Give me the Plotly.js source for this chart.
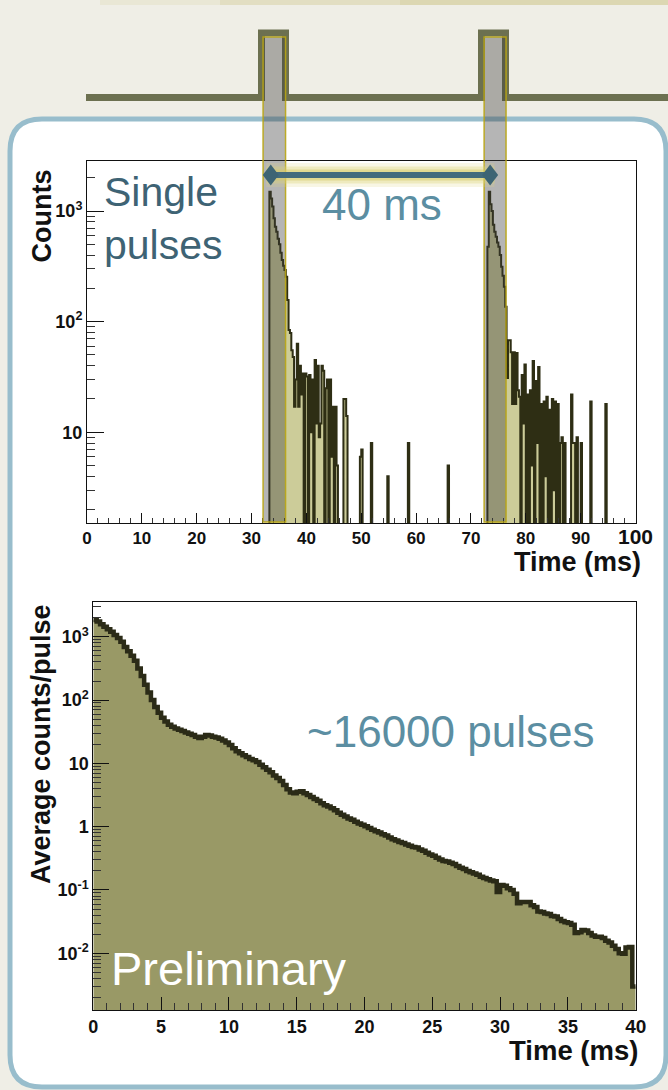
<!DOCTYPE html>
<html><head><meta charset="utf-8">
<script src="https://cdn.plot.ly/plotly-3.0.1.min.js"></script>
<style>html,body{margin:0;padding:0;background:#efeee6;overflow:hidden}#chart{width:668px;height:1090px}</style>
</head><body><div id="chart"></div>
<script>
// ---------------- data ----------------
// Top panel: single pulses, counts per 0.25 ms bin (bins not listed are empty)
const topBinWidth = 0.25;
const topBinStart = [33.25,33.5,33.75,34,34.25,34.5,34.75,35,35.25,35.5,35.75,36,36.25,36.5,36.75,
  37,37.25,37.5,37.75,38,38.25,38.5,38.75,39,39.25,
  39.75,40,40.5,40.75,41,41.5,41.75,42,42.25,42.5,42.75,43,43.5,43.75,
  44.25,44.5,44.75,45.25,45.5,46.75,47,47.25,
  49.75,50,51.75,54.75,58.5,65.75,
  73,73.25,73.5,73.75,74,74.25,74.5,74.75,75,75.25,75.5,75.75,76,76.25,
  76.5,76.75,77,77.25,77.5,77.75,78,78.25,78.5,78.75,
  79.25,79.5,79.75,80.25,80.75,81,81.25,81.75,82,82.25,82.75,
  83.25,83.5,83.75,84.25,84.75,85,85.25,85.75,86.25,86.5,87,
  88.25,88.5,88.75,89.25,90,91.75,94.5];
const topCounts = [1490,1300,1100,860,720,650,560,500,420,360,320,293,255,157,84,
  79,55,48,17,30,63,17,40,22,34,
  34,32,33,10,30,45,12,40,9,12,40,36,25,30,
  30,6,17,17,5,20,20,14,
  6,7,8,4,8,5,
  475,1490,1150,1000,750,650,585,520,475,400,313,260,207,136,
  31,68,68,53,18,53,18,52,24,21,
  33,12,41,22,24,5,44,29,8,39,18,
  19,4,21,16,20,3,19,18,8,9,8,
  22,8,8,9,8,19,18];
const topTimeMax = 100;

// Bottom panel: average counts per pulse, 0.25 ms bins from 0 to 40 ms
const avgBinWidth = 0.25;
const avgCounts = [
  1840,1740,1585,1445, 1318,1202,1072,955, 832,692,589,501, 417,316,240,174,
  132,100,77.6,63.1, 52.5,45.7,40.7,38.0, 35.5,33.9,32.4,30.9, 29.5,28.2,26.3,25.1,
  26.3,28.2,27.5,26.3, 25.7,24.5,22.9,21.4, 19.5,17.4,15.5,14.5, 13.5,12.6,11.7,11.2,
  10.5,9.55,8.71,7.94, 7.24,6.46,5.89,5.25, 4.57,3.89,3.47,3.39, 3.55,3.63,3.39,3.16,
  2.95,2.75,2.57,2.34, 2.19,2.09,1.95,1.82, 1.66,1.55,1.45,1.35, 1.29,1.20,1.12,1.07,
  1.02,0.955,0.891,0.851, 0.813,0.759,0.724,0.676, 0.631,0.603,0.575,0.550, 0.525,0.501,0.479,0.468,
  0.437,0.417,0.389,0.363, 0.347,0.324,0.302,0.288, 0.282,0.269,0.257,0.240, 0.224,0.214,0.200,0.191,
  0.182,0.174,0.162,0.155, 0.148,0.141,0.138,0.0933, 0.120,0.117,0.107,0.100, 0.0871,0.0617,0.0646,0.0646,
  0.0646,0.0575,0.0537,0.0457, 0.0447,0.0427,0.0417,0.0389, 0.0380,0.0347,0.0324,0.0309, 0.0302,0.0282,0.0209,0.0214,
  0.0234,0.0229,0.0209,0.0191, 0.0182,0.0182,0.0174,0.0158, 0.0148,0.0132,0.0117,0.0100, 0.0098,0.0123,0.0126,0.0030];

// tick labels
const topXTickVals = [0,10,20,30,40,50,60,70,80,90,100];
const topXTickText = ['0','10','20','30','40','50','60','70','80','90','<span style="font-size:21px">100</span>'];
const topYTickVals = [10,100,1000];
const topYTickText = ['10','10<sup>2</sup>','10<sup>3</sup>'];
const botXTickVals = [0,5,10,15,20,25,30,35,40];
const botXTickText = ['0','5','10','15','20','25','30','35','<span style="font-size:19px">40</span>'];
const botYTickVals = [0.01,0.1,1,10,100,1000];
const botYTickText = ['10<sup>-2</sup>','10<sup>-1</sup>','1','10','10<sup>2</sup>','10<sup>3</sup>'];

// pulse markers (ms) and the spacing arrow
const pulseWindows = [[32.1,36.2],[72.4,76.4]];
const arrowFrom = 33.5, arrowTo = 73.5;

// ---------------- helpers ----------------
const W = 668, H = 1090;
const X = p => p / W;
const Y = p => 1 - p / H;

function stepTrace(values, binW, floorVal) {
  const xs = [], ys = [];
  values.forEach((v, i) => { xs.push(i * binW); ys.push(v > 0 ? v : floorVal); });
  const last = values[values.length - 1];
  xs.push(values.length * binW); ys.push(last > 0 ? last : floorVal);
  return {xs, ys};
}

// fill top histogram from sparse bins
const topN = Math.round(topTimeMax / topBinWidth);
const topFull = new Array(topN).fill(0);
topBinStart.forEach((t, k) => { topFull[Math.round(t / topBinWidth)] = topCounts[k]; });
const topStep = stepTrace(topFull, topBinWidth, 0.3);
const botStep = stepTrace(avgCounts, avgBinWidth, 0.0001);

function logMinors(lo, hi) {
  const out = [];
  for (let d = -4; d <= 4; d++) for (let m = 2; m <= 9; m++) {
    const v = m * Math.pow(10, d);
    if (Math.log10(v) >= lo && Math.log10(v) <= hi) out.push(v);
  }
  return out;
}
function linMinors(max, step, major) {
  const out = [];
  for (let t = step; t < max; t += step) if (Math.abs(t / major - Math.round(t / major)) > 1e-6) out.push(t);
  return out;
}

const FONT = 'Liberation Sans, Arial, Helvetica, sans-serif';
const tickFont = s => ({family: FONT, size: s, color: '#111', weight: 'bold'});

const topYRange = [0.18, 3.452];
const botYRange = [-2.896, 3.545];

const traces = [
  {x: topStep.xs, y: topStep.ys, xaxis: 'x', yaxis: 'y', type: 'scatter', mode: 'lines',
   line: {shape: 'hv', color: '#2e2e14', width: 2}, fill: 'tozeroy', fillcolor: '#cccc99', hoverinfo: 'skip'},
  {x: botStep.xs, y: botStep.ys, xaxis: 'x2', yaxis: 'y2', type: 'scatter', mode: 'lines',
   line: {shape: 'hv', color: '#2b2b17', width: 4.5}, fill: 'tozeroy', fillcolor: '#999966', hoverinfo: 'skip'}
];

const axisCommon = {showline: true, linecolor: '#111', linewidth: 1, mirror: true, ticks: 'inside',
  tickcolor: '#111', tickwidth: 1, showgrid: false, zeroline: false, tickmode: 'array', fixedrange: true};

const layout = {
  width: W, height: H, margin: {l: 0, r: 0, t: 0, b: 0, pad: 0},
  paper_bgcolor: '#efeee6', plot_bgcolor: '#ffffff', showlegend: false,
  xaxis: Object.assign({}, axisCommon, {domain: [X(87), X(635.5)], range: [0, topTimeMax], anchor: 'y',
    tickvals: topXTickVals, ticktext: topXTickText, ticklen: 10, tickfont: tickFont(17),
    minor: {tickmode: 'array', tickvals: linMinors(topTimeMax, 2, 10), ticklen: 5, tickcolor: '#333', ticks: 'inside'}}),
  yaxis: Object.assign({}, axisCommon, {domain: [Y(523), Y(161)], type: 'log', range: topYRange, anchor: 'x',
    tickvals: topYTickVals, ticktext: topYTickText, ticklen: 17, tickfont: tickFont(18),
    minor: {tickmode: 'array', tickvals: logMinors(topYRange[0], topYRange[1]), ticklen: 8, tickcolor: '#333', ticks: 'inside'}}),
  xaxis2: Object.assign({}, axisCommon, {domain: [X(93.3), X(635.7)], range: [0, 40], anchor: 'y2',
    tickvals: botXTickVals, ticktext: botXTickText, ticklen: 13, tickfont: tickFont(18),
    minor: {tickmode: 'array', tickvals: linMinors(40, 1, 5), ticklen: 7, tickcolor: '#333', ticks: 'inside'}}),
  yaxis2: Object.assign({}, axisCommon, {domain: [Y(1010), Y(602.3)], type: 'log', range: botYRange, anchor: 'x2',
    tickvals: botYTickVals, ticktext: botYTickText, ticklen: 16, tickfont: tickFont(18),
    minor: {tickmode: 'array', tickvals: logMinors(botYRange[0], botYRange[1]), ticklen: 8, tickcolor: '#333', ticks: 'inside'}}),
  shapes: [],
  annotations: []
};

// rounded panel box
(function () {
  const L = 10, T = 119, R = 666, B = 1087, r = 32;
  const p = `M ${X(L + r)},${Y(T)} L ${X(R - r)},${Y(T)} Q ${X(R)},${Y(T)} ${X(R)},${Y(T + r)} ` +
    `L ${X(R)},${Y(B - r)} Q ${X(R)},${Y(B)} ${X(R - r)},${Y(B)} L ${X(L + r)},${Y(B)} ` +
    `Q ${X(L)},${Y(B)} ${X(L)},${Y(B - r)} L ${X(L)},${Y(T + r)} Q ${X(L)},${Y(T)} ${X(L + r)},${Y(T)} Z`;
  layout.shapes.push({type: 'path', xref: 'paper', yref: 'paper', path: p, fillcolor: '#ffffff',
    line: {color: '#98bdcc', width: 5}, layer: 'below'});
})();
// faint top strip (gradient-like)
[[100, 'rgba(220,214,175,0.30)'], [220, 'rgba(214,206,160,0.35)'], [400, 'rgba(210,202,150,0.35)']].forEach(s => {
  layout.shapes.push({type: 'rect', xref: 'paper', yref: 'paper', x0: X(s[0]), x1: 1, y0: Y(5), y1: 1,
    fillcolor: s[1], line: {width: 0}, layer: 'below'});
});
// pulse train schematic
(function () {
  const yb = 97.5, yt = 33;
  const p = `M ${X(86)},${Y(yb)} L ${X(261.5)},${Y(yb)} L ${X(261.5)},${Y(yt)} L ${X(285.5)},${Y(yt)} ` +
    `L ${X(285.5)},${Y(yb)} L ${X(481.5)},${Y(yb)} L ${X(481.5)},${Y(yt)} L ${X(505.5)},${Y(yt)} ` +
    `L ${X(505.5)},${Y(yb)} L ${X(672)},${Y(yb)}`;
  layout.shapes.push({type: 'path', xref: 'paper', yref: 'paper', path: p,
    line: {color: '#6c7050', width: 7}, layer: 'below'});
})();
// grey pulse windows
pulseWindows.forEach(w => {
  layout.shapes.push({type: 'rect', xref: 'x', yref: 'paper', x0: w[0], x1: w[1], y0: Y(522), y1: Y(37),
    fillcolor: 'rgba(60,60,60,0.38)', line: {color: 'rgba(185,165,20,0.9)', width: 1.5}, layer: 'above'});
});
// arrow with glow
const ay = Y(175);
[[24, 'rgba(224,216,130,0.22)'], [17, 'rgba(222,212,120,0.35)'], [11, 'rgba(214,202,100,0.5)']].forEach(g => {
  layout.shapes.push({type: 'line', xref: 'x', yref: 'paper', x0: arrowFrom - 0.8, x1: arrowTo + 0.8, y0: ay, y1: ay,
    line: {color: g[1], width: g[0]}, layer: 'above'});
});
layout.shapes.push({type: 'line', xref: 'x', yref: 'paper', x0: arrowFrom, x1: arrowTo, y0: ay, y1: ay,
  line: {color: '#436b7c', width: 6}, layer: 'above'});
const pxPerMs = (635.5 - 87) / topTimeMax;
[arrowFrom, arrowTo].forEach(c => {
  const dx = 8 / pxPerMs, dy = 10.5 / H;
  const p = `M ${c - dx},${ay} L ${c},${ay + dy} L ${c + dx},${ay} L ${c},${ay - dy} Z`;
  layout.shapes.push({type: 'path', xref: 'x', yref: 'paper', path: p, fillcolor: '#3d6474',
    line: {width: 0}, layer: 'above'});
});

// text
function ann(text, x, y, o) {
  layout.annotations.push(Object.assign({text, x: X(x), y: Y(y), xref: 'paper', yref: 'paper',
    showarrow: false, xanchor: 'left', yanchor: 'middle', borderpad: 0}, o));
}
const f = (s, c, w) => ({family: FONT, size: s, color: c, weight: w || 'normal'});
ann('Single', 103, 191.5, {font: f(41, '#3e6374')});
ann('pulses', 103, 245, {font: f(41, '#3e6374')});
ann('40 ms', 321, 205, {font: f(44, '#5b8ea2')});
ann('~16000 pulses', 306, 731.5, {font: f(44, '#5b8ea2')});
ann('Preliminary', 110, 968, {font: f(47, '#ffffff')});
ann('Time (ms)', 642, 562, {xanchor: 'right', font: f(27, '#111', 'bold')});
ann('Time (ms)', 639, 1050, {xanchor: 'right', font: f(27.5, '#111', 'bold')});
ann('Counts', 41, 216.5, {xanchor: 'center', textangle: -90, font: f(27, '#111', 'bold')});
ann('Average counts/pulse', 41, 744, {xanchor: 'center', textangle: -90, font: f(27, '#111', 'bold')});

Plotly.newPlot('chart', traces, layout, {displayModeBar: false, staticPlot: true});
</script>
</body></html>
